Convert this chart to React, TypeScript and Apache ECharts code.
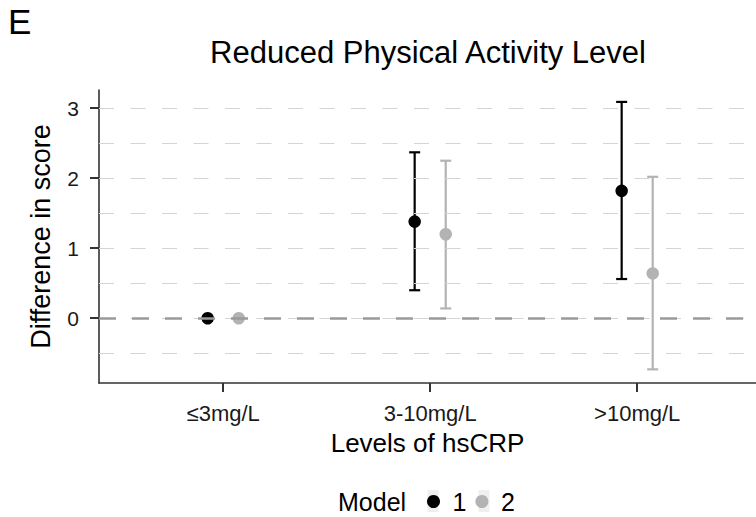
import React, { useEffect, useRef } from "react";
import * as echarts from "echarts";

const categories = ["≤3mg/L", "3-10mg/L", ">10mg/L"];
const modelNames = ["1", "2"];
const model1Est = [0, 1.38, 1.82];
const model1Low = [0, 0.4, 0.56];
const model1High = [0, 2.37, 3.09];
const model2Est = [0, 1.2, 0.64];
const model2Low = [0, 0.14, -0.73];
const model2High = [0, 2.25, 2.02];
const yTicks = [0, 1, 2, 3];
const gridLevels = [-0.5, 0, 0.5, 1, 1.5, 2, 2.5, 3];

const FONT = "'Liberation Sans', Arial, Helvetica, sans-serif";
const DODGE = 0.075;
const COLORS = ["#000000", "#b3b3b3"];

export default function App() {
  const ref = useRef<HTMLDivElement>(null);
  useEffect(() => {
    if (!ref.current) return;
    const chart = echarts.init(ref.current, null, { renderer: "svg" });
    const models = [
      { est: model1Est, low: model1Low, high: model1High, off: -DODGE },
      { est: model2Est, low: model2Low, high: model2High, off: DODGE },
    ];
    const errSeries = models.map((m, mi) => ({
      type: "custom",
      name: modelNames[mi],
      silent: true,
      z: 3,
      itemStyle: { color: COLORS[mi] },
      data: categories.map((_, ci) => [ci + 1 + m.off, m.low[ci], m.high[ci]]),
      encode: { x: 0, y: [1, 2] },
      renderItem: (params: any, api: any) => {
        const x = api.value(0);
        const lo = api.coord([x, api.value(1)]);
        const hi = api.coord([x, api.value(2)]);
        const hw = 5.5;
        const style = { stroke: COLORS[mi], lineWidth: 2.2 };
        return {
          type: "group",
          children: [
            { type: "line", shape: { x1: lo[0], y1: lo[1], x2: hi[0], y2: hi[1] }, style },
            { type: "line", shape: { x1: hi[0] - hw, y1: hi[1], x2: hi[0] + hw, y2: hi[1] }, style },
            { type: "line", shape: { x1: lo[0] - hw, y1: lo[1], x2: lo[0] + hw, y2: lo[1] }, style },
          ],
        };
      },
    }));
    const pointSeries = models.map((m, mi) => ({
      type: "scatter",
      name: modelNames[mi],
      symbol: "circle",
      symbolSize: 12.5,
      z: 4,
      itemStyle: { color: COLORS[mi], opacity: 1 },
      data: categories.map((_, ci) => [ci + 1 + m.off, m.est[ci]]),
    }));
    const gridSeries = {
      type: "line",
      name: "grid",
      data: [],
      silent: true,
      z: 1,
      markLine: {
        silent: true,
        symbol: "none",
        label: { show: false },
        data: gridLevels.map((v) => ({
          yAxis: v,
          lineStyle: { color: "#d4d4d4", width: 1.2, type: [15, 16.5] },
        })),
      },
    };
    const zeroSeries = {
      type: "line",
      name: "zero",
      data: [],
      silent: true,
      z: 2,
      markLine: {
        silent: true,
        symbol: "none",
        label: { show: false },
        data: [{ yAxis: 0, lineStyle: { color: "#9a9a9a", width: 2.6, type: [17, 16] } }],
      },
    };
    chart.setOption({
      animation: false,
      backgroundColor: "#ffffff",
      color: COLORS,
      textStyle: { fontFamily: FONT },
      grid: { left: 99, right: 0, top: 90, bottom: 134, containLabel: false },
      graphic: [
        {
          type: "text",
          left: 8,
          top: 4,
          style: { text: "E", font: `35px ${FONT}`, fill: "#000" },
        },
        {
          type: "text",
          x: 428,
          y: 52,
          style: {
            text: "Reduced Physical Activity Level",
            font: `31px ${FONT}`,
            fill: "#000",
            textAlign: "center",
            textVerticalAlign: "middle",
          },
        },
        {
          type: "rect",
          z: 0,
          shape: { x: 427.5, y: 490, width: 11, height: 22 },
          style: { fill: "#efefef" },
        },
        {
          type: "rect",
          z: 0,
          shape: { x: 478.5, y: 490, width: 11, height: 22 },
          style: { fill: "#efefef" },
        },
        {
          type: "text",
          x: 338,
          y: 502,
          style: {
            text: "Model",
            font: `25px ${FONT}`,
            fill: "#000",
            textAlign: "left",
            textVerticalAlign: "middle",
          },
        },
      ],
      legend: {
        data: modelNames.map((n, i) => ({ name: n, icon: "circle", itemStyle: { color: COLORS[i] } })),
        left: 427,
        top: 489,
        itemWidth: 28,
        itemHeight: 13,
        itemGap: 9,
        padding: 0,
        selectedMode: false,
        textStyle: { fontSize: 25, color: "#000", fontFamily: FONT },
      },
      xAxis: {
        type: "value",
        min: 0.4,
        max: 3.574,
        name: "Levels of hsCRP",
        nameLocation: "middle",
        nameGap: 47,
        nameTextStyle: { fontSize: 26, color: "#000", fontFamily: FONT },
        splitLine: { show: false },
        axisLine: { show: true, onZero: false, lineStyle: { color: "#333", width: 1.6 } },
        axisTick: { show: true, customValues: [1, 2, 3], length: 9, lineStyle: { color: "#333", width: 2 } },
        axisLabel: {
          customValues: [1, 2, 3],
          margin: 19,
          fontSize: 22,
          color: "#1a1a1a",
          fontFamily: FONT,
          formatter: (v: number) => categories[Math.round(v) - 1] ?? "",
        },
      },
      yAxis: {
        type: "value",
        min: -0.925,
        max: 3.26,
        name: "Difference in score",
        nameLocation: "middle",
        nameGap: 45,
        nameTextStyle: { fontSize: 27, color: "#000", fontFamily: FONT },
        splitLine: { show: false },
        axisLine: { show: true, onZero: false, lineStyle: { color: "#333", width: 1.6 } },
        axisTick: { show: true, customValues: yTicks, length: 9, lineStyle: { color: "#333", width: 2 } },
        axisLabel: {
          customValues: yTicks,
          margin: 20,
          fontSize: 21,
          color: "#1a1a1a",
          fontFamily: FONT,
          formatter: (v: number) => String(v),
        },
      },
      series: [gridSeries, zeroSeries, ...errSeries, ...pointSeries],
    });
    return () => chart.dispose();
  }, []);
  return (
    <div
      ref={ref}
      style={{ position: "fixed", left: 0, top: 0, width: 756, height: 517, background: "#fff" }}
    />
  );
}
